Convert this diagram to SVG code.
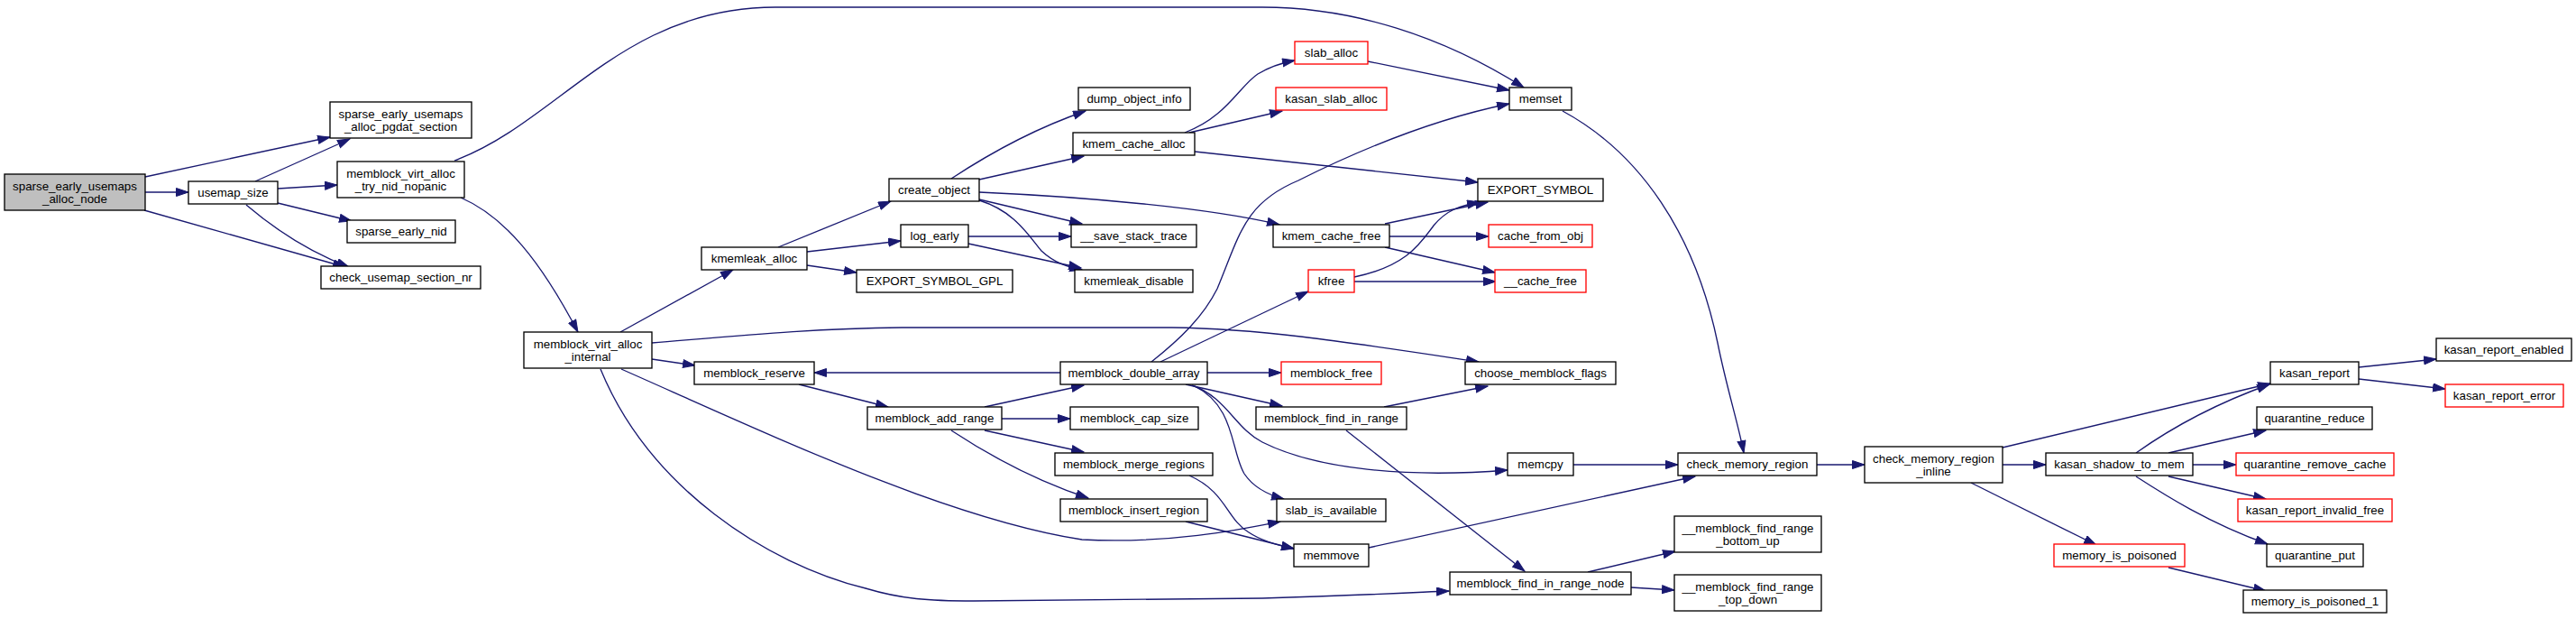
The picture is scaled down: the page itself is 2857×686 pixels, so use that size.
<svg xmlns="http://www.w3.org/2000/svg" width="2857" height="686" viewBox="0 0 2857 686">
<style>
.n rect{fill:#fff;stroke:#000;stroke-width:1.33}
.n.root rect{fill:#bfbfbf}
.n.red rect{stroke:#ff0000}
.n text{font-family:"Liberation Sans",Arial,Helvetica,sans-serif;font-size:13.33px;fill:#000;text-anchor:middle}
#edges path{fill:none;stroke:#191970;stroke-width:1.33;marker-end:url(#arr)}
</style>
<defs>
<marker id="arr" markerUnits="userSpaceOnUse" markerWidth="16" markerHeight="12" refX="14" refY="5" orient="auto">
<path d="M0.5,0.5 L14,5 L0.5,9.5 Z" fill="#191970" stroke="#191970" stroke-width="1"/>
</marker>
</defs>
<rect width="2857" height="686" fill="#fff"/>
<g id="edges">
<path d="M161,196 L366,152"/>
<path d="M161,213 L209,213"/>
<path d="M160,233 L383,296"/>
<path d="M283,201 L388,154"/>
<path d="M308,209 L374,205"/>
<path d="M308,225 L390,245"/>
<path d="M273,227 C300,250 340,278 387,296"/>
<path d="M504,178 C620,135 690,8 860,8 L1400,8 C1500,8 1600,40 1690,97"/>
<path d="M511,219 C560,240 600,290 641,368"/>
<path d="M688,368 L813,299"/>
<path d="M723,380 C820,372 900,364 1000,363 L1300,363 C1400,364 1500,380 1640,401"/>
<path d="M723,398 L771,405"/>
<path d="M689,409 C850,480 1050,575 1200,598 C1300,603 1380,586 1420,578"/>
<path d="M666,409 C720,540 850,625 960,652 C1000,664 1030,666 1080,666 L1400,663 C1500,660 1560,657 1607,655"/>
<path d="M863,274 L988,223"/>
<path d="M895,279 L999,267"/>
<path d="M895,294 L950,302"/>
<path d="M1055,198 C1090,175 1140,145 1204,123"/>
<path d="M1086,199 L1202,173"/>
<path d="M1086,213 C1200,218 1340,230 1419,249"/>
<path d="M1086,221 L1200,248"/>
<path d="M1086,222 C1125,234 1140,260 1155,278 C1170,292 1185,296 1200,299"/>
<path d="M1074,262 L1188,262"/>
<path d="M1074,270 L1199,297"/>
<path d="M1314,147 C1360,130 1375,95 1395,82 C1410,73 1425,69 1436,67"/>
<path d="M1319,147 L1422,123"/>
<path d="M1325,168 L1639,202"/>
<path d="M1517,68 L1674,100"/>
<path d="M1277,401 C1310,375 1335,350 1350,320 C1375,260 1380,225 1440,200 C1520,160 1600,130 1674,115"/>
<path d="M1287,401 L1451,323"/>
<path d="M1176,413 L903,413"/>
<path d="M1339,413 L1421,413"/>
<path d="M1315,426 L1422,450"/>
<path d="M1322,427 C1360,440 1370,475 1400,490 C1460,520 1560,530 1672,521"/>
<path d="M1325,428 C1370,450 1365,500 1380,525 C1390,540 1405,548 1424,553"/>
<path d="M886,426 L985,451"/>
<path d="M1092,451 L1202,427"/>
<path d="M1111,464 L1187,464"/>
<path d="M1092,477 L1202,501"/>
<path d="M1055,477 C1090,500 1140,530 1207,552"/>
<path d="M1319,527 C1360,545 1360,575 1385,590 C1400,600 1420,605 1435,608"/>
<path d="M1315,578 L1435,608"/>
<path d="M1535,451 L1650,428"/>
<path d="M1493,477 L1691,633"/>
<path d="M1745,515 L1861,515"/>
<path d="M1518,607 L1880,528"/>
<path d="M1733,123 C1820,170 1880,260 1905,380 C1915,430 1928,470 1934,502"/>
<path d="M1761,634 L1858,611"/>
<path d="M1809,651 L1857,654"/>
<path d="M1536,248 L1650,224"/>
<path d="M1541,262 L1651,262"/>
<path d="M1536,274 L1658,302"/>
<path d="M1502,307 C1560,295 1575,270 1590,250 C1605,232 1620,228 1641,224"/>
<path d="M1502,312 L1659,312"/>
<path d="M2015,515 L2068,515"/>
<path d="M2221,496 L2518,425"/>
<path d="M2221,515 L2269,515"/>
<path d="M2186,535 L2325,604"/>
<path d="M2369,502 C2400,480 2450,450 2517,426"/>
<path d="M2405,502 L2513,477"/>
<path d="M2432,515 L2480,515"/>
<path d="M2405,528 L2513,553"/>
<path d="M2369,528 C2400,548 2450,580 2515,603"/>
<path d="M2405,629 L2513,655"/>
<path d="M2616,407 L2702,398"/>
<path d="M2616,420 L2712,431"/>
</g>
<g id="n0" class="n root"><rect x="5" y="193" width="156" height="40"/><text x="83" y="210.5">sparse_early_usemaps</text><text x="83" y="224.5">_alloc_node</text></g>
<g id="n_usemap_size" class="n"><rect x="209" y="201" width="99" height="25"/><text x="258.5" y="218">usemap_size</text></g>
<g id="n_pgdat" class="n"><rect x="366" y="113" width="157" height="40"/><text x="444.5" y="130.5">sparse_early_usemaps</text><text x="444.5" y="144.5">_alloc_pgdat_section</text></g>
<g id="n_nopanic" class="n"><rect x="374" y="179" width="141" height="40"/><text x="444.5" y="196.5">memblock_virt_alloc</text><text x="444.5" y="210.5">_try_nid_nopanic</text></g>
<g id="n_sparse_early_nid" class="n"><rect x="385" y="244" width="120" height="25"/><text x="445" y="261">sparse_early_nid</text></g>
<g id="n_check_usemap" class="n"><rect x="356" y="295" width="177" height="25"/><text x="444.5" y="312">check_usemap_section_nr</text></g>
<g id="n_internal" class="n"><rect x="581" y="368" width="142" height="40"/><text x="652" y="385.5">memblock_virt_alloc</text><text x="652" y="399.5">_internal</text></g>
<g id="n_kmemleak_alloc" class="n"><rect x="778" y="274" width="117" height="25"/><text x="836.5" y="291">kmemleak_alloc</text></g>
<g id="n_memblock_reserve" class="n"><rect x="770" y="401" width="133" height="25"/><text x="836.5" y="418">memblock_reserve</text></g>
<g id="n_create_object" class="n"><rect x="986" y="198" width="100" height="25"/><text x="1036" y="215">create_object</text></g>
<g id="n_log_early" class="n"><rect x="999" y="249" width="75" height="25"/><text x="1036.5" y="266">log_early</text></g>
<g id="n_export_gpl" class="n"><rect x="950" y="299" width="173" height="25"/><text x="1036.5" y="316">EXPORT_SYMBOL_GPL</text></g>
<g id="n_dump_object_info" class="n"><rect x="1196" y="97" width="124" height="25"/><text x="1258" y="114">dump_object_info</text></g>
<g id="n_kmem_cache_alloc" class="n"><rect x="1190" y="147" width="135" height="25"/><text x="1257.5" y="164">kmem_cache_alloc</text></g>
<g id="n_save_stack_trace" class="n"><rect x="1188" y="249" width="139" height="25"/><text x="1257.5" y="266">__save_stack_trace</text></g>
<g id="n_kmemleak_disable" class="n"><rect x="1192" y="299" width="131" height="25"/><text x="1257.5" y="316">kmemleak_disable</text></g>
<g id="n_slab_alloc" class="n red"><rect x="1436" y="46" width="81" height="25"/><text x="1476.5" y="63">slab_alloc</text></g>
<g id="n_kasan_slab_alloc" class="n red"><rect x="1415" y="97" width="123" height="25"/><text x="1476.5" y="114">kasan_slab_alloc</text></g>
<g id="n_kmem_cache_free" class="n"><rect x="1412" y="249" width="129" height="25"/><text x="1476.5" y="266">kmem_cache_free</text></g>
<g id="n_kfree" class="n red"><rect x="1451" y="299" width="51" height="25"/><text x="1476.5" y="316">kfree</text></g>
<g id="n_memset" class="n"><rect x="1674" y="97" width="69" height="25"/><text x="1708.5" y="114">memset</text></g>
<g id="n_export_symbol" class="n"><rect x="1639" y="198" width="139" height="25"/><text x="1708.5" y="215">EXPORT_SYMBOL</text></g>
<g id="n_cache_from_obj" class="n red"><rect x="1651" y="249" width="115" height="25"/><text x="1708.5" y="266">cache_from_obj</text></g>
<g id="n_cache_free" class="n red"><rect x="1658" y="299" width="101" height="25"/><text x="1708.5" y="316">__cache_free</text></g>
<g id="n_double_array" class="n"><rect x="1176" y="401" width="163" height="25"/><text x="1257.5" y="418">memblock_double_array</text></g>
<g id="n_add_range" class="n"><rect x="962" y="451" width="149" height="25"/><text x="1036.5" y="468">memblock_add_range</text></g>
<g id="n_cap_size" class="n"><rect x="1187" y="451" width="142" height="25"/><text x="1258" y="468">memblock_cap_size</text></g>
<g id="n_merge_regions" class="n"><rect x="1170" y="502" width="175" height="25"/><text x="1257.5" y="519">memblock_merge_regions</text></g>
<g id="n_insert_region" class="n"><rect x="1176" y="553" width="163" height="25"/><text x="1257.5" y="570">memblock_insert_region</text></g>
<g id="n_memblock_free" class="n red"><rect x="1421" y="401" width="111" height="25"/><text x="1476.5" y="418">memblock_free</text></g>
<g id="n_find_in_range" class="n"><rect x="1393" y="451" width="167" height="25"/><text x="1476.5" y="468">memblock_find_in_range</text></g>
<g id="n_slab_is_available" class="n"><rect x="1416" y="553" width="121" height="25"/><text x="1476.5" y="570">slab_is_available</text></g>
<g id="n_memmove" class="n"><rect x="1435" y="603" width="83" height="25"/><text x="1476.5" y="620">memmove</text></g>
<g id="n_choose_flags" class="n"><rect x="1625" y="401" width="167" height="25"/><text x="1708.5" y="418">choose_memblock_flags</text></g>
<g id="n_memcpy" class="n"><rect x="1672" y="502" width="73" height="25"/><text x="1708.5" y="519">memcpy</text></g>
<g id="n_find_in_range_node" class="n"><rect x="1608" y="634" width="201" height="25"/><text x="1708.5" y="651">memblock_find_in_range_node</text></g>
<g id="n_check_memory_region" class="n"><rect x="1861" y="502" width="154" height="25"/><text x="1938" y="519">check_memory_region</text></g>
<g id="n_bottom_up" class="n"><rect x="1857" y="572" width="163" height="40"/><text x="1938.5" y="589.5">__memblock_find_range</text><text x="1938.5" y="603.5">_bottom_up</text></g>
<g id="n_top_down" class="n"><rect x="1857" y="637" width="163" height="40"/><text x="1938.5" y="654.5">__memblock_find_range</text><text x="1938.5" y="668.5">_top_down</text></g>
<g id="n_cmr_inline" class="n"><rect x="2068" y="495" width="153" height="40"/><text x="2144.5" y="512.5">check_memory_region</text><text x="2144.5" y="526.5">_inline</text></g>
<g id="n_shadow_to_mem" class="n"><rect x="2269" y="502" width="163" height="25"/><text x="2350.5" y="519">kasan_shadow_to_mem</text></g>
<g id="n_memory_is_poisoned" class="n red"><rect x="2278" y="603" width="145" height="25"/><text x="2350.5" y="620">memory_is_poisoned</text></g>
<g id="n_kasan_report" class="n"><rect x="2518" y="401" width="98" height="25"/><text x="2567" y="418">kasan_report</text></g>
<g id="n_report_enabled" class="n"><rect x="2702" y="375" width="150" height="25"/><text x="2777" y="392">kasan_report_enabled</text></g>
<g id="n_report_error" class="n red"><rect x="2712" y="426" width="131" height="25"/><text x="2777.5" y="443">kasan_report_error</text></g>
<g id="n_quarantine_reduce" class="n"><rect x="2503" y="451" width="128" height="25"/><text x="2567" y="468">quarantine_reduce</text></g>
<g id="n_quarantine_remove_cache" class="n red"><rect x="2480" y="502" width="175" height="25"/><text x="2567.5" y="519">quarantine_remove_cache</text></g>
<g id="n_report_invalid_free" class="n red"><rect x="2482" y="553" width="171" height="25"/><text x="2567.5" y="570">kasan_report_invalid_free</text></g>
<g id="n_quarantine_put" class="n"><rect x="2514" y="603" width="107" height="25"/><text x="2567.5" y="620">quarantine_put</text></g>
<g id="n_memory_is_poisoned_1" class="n"><rect x="2488" y="654" width="159" height="25"/><text x="2567.5" y="671">memory_is_poisoned_1</text></g>
</svg>
